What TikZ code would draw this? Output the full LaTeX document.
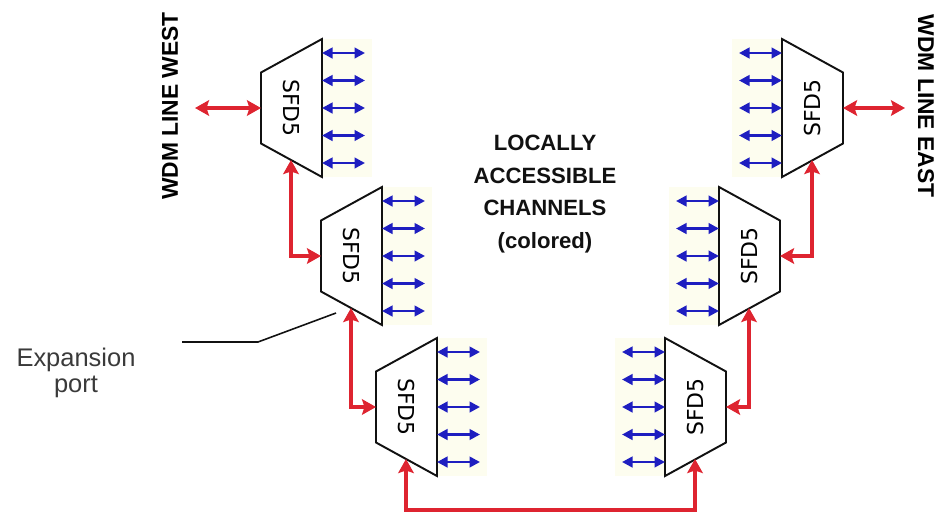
\documentclass[tikz,border=0pt]{standalone}
\usepackage{fontspec}
\setmainfont{Liberation Sans}
\newfontfamily\sfdfont{DejaVu Sans}
\usepackage{tikz}
\usetikzlibrary{arrows.meta}
\definecolor{WdmRed}{HTML}{DE2430}
\definecolor{WdmBlue}{HTML}{1E1EC0}
\definecolor{WdmInk}{HTML}{111111}
\definecolor{WdmGrey}{HTML}{3A3A3A}
\definecolor{WdmPaleYellow}{HTML}{FDFDEF}

\begin{document}
\begin{tikzpicture}[x=0.02cm,y=-0.02cm,
  demux/.style={draw=WdmInk,line width=1.1pt,fill=white},
  sfdtext/.style={font=\sfdfont\fontsize{12.5}{14}\selectfont,inner sep=0pt},
  fiberlink/.style={WdmRed,line width=2.4pt,
    {Stealth[length=2.8mm,width=3.1mm,inset=0.5mm]}-{Stealth[length=2.8mm,width=3.1mm,inset=0.5mm]}},
  channel/.style={WdmBlue,line width=1.5pt,
    {Triangle[length=2.1mm,width=2.1mm]}-{Triangle[length=2.1mm,width=2.1mm]}},
  linelabel/.style={font=\bfseries\fontsize{13}{14}\selectfont,inner sep=0pt},
  chanband/.style={fill=WdmPaleYellow,draw=none}]
  \useasboundingbox (0,0) rectangle (945,514);
  % west chain, narrow side facing left
  \foreach \n/\x/\y in {wtop/261/108,wmid/321/256,wbot/376/407}{
    \fill[chanband] (\x+61,\y-69) rectangle ++(50,138);
    \draw[demux] (\x,\y-35.5) -- (\x+61,\y-69) -- (\x+61,\y+69) -- (\x,\y+35.5) -- cycle;
    \node[sfdtext,rotate=-90] (\n) at (\x+30.5,\y) {SFD5};
    \coordinate (\n-in) at (\x,\y);
    \coordinate (\n-exp) at (\x+30,\y+52);
    \foreach \k in {-2,...,2}
      \draw[channel] (\x+61,\y+27.5*\k) -- (\x+104,\y+27.5*\k);
  }
  % east chain, narrow side facing right
  \foreach \n/\x/\y in {ebot/665/407,emid/719/256,etop/782/108}{
    \fill[chanband] (\x-50,\y-69) rectangle ++(50,138);
    \draw[demux] (\x,\y-69) -- (\x+61,\y-35.5) -- (\x+61,\y+35.5) -- (\x,\y+69) -- cycle;
    \node[sfdtext,rotate=90] (\n) at (\x+30.5,\y) {SFD5};
    \coordinate (\n-in) at (\x+61,\y);
    \coordinate (\n-exp) at (\x+30,\y+52);
    \foreach \k in {-2,...,2}
      \draw[channel] (\x-43,\y+27.5*\k) -- (\x,\y+27.5*\k);
  }
  \coordinate (westend) at (195,108);
  \coordinate (eastend) at (905,108);
  \coordinate (loopfloor) at (550,510);
  \draw[fiberlink] (westend) -- (wtop-in);
  \draw[fiberlink] (etop-in) -- (eastend);
  \draw[fiberlink] (wtop-exp) |- (wmid-in);
  \draw[fiberlink] (wmid-exp) |- (wbot-in);
  \draw[fiberlink] (etop-exp) |- (emid-in);
  \draw[fiberlink] (emid-exp) |- (ebot-in);
  \draw[fiberlink] (wbot-exp) |- (loopfloor) -| (ebot-exp);
  \node[linelabel,rotate=90] (westlabel) at (170,106) {WDM LINE WEST};
  \node[linelabel,rotate=-90] (eastlabel) at (926,106) {WDM LINE EAST};
  \node[font=\bfseries\fontsize{12.6}{18.7}\selectfont,align=center,text=WdmInk]
    (local) at (545,194) {LOCALLY\\ACCESSIBLE\\CHANNELS\\(colored)};
  \node[font=\fontsize{14.5}{14.7}\selectfont,text=WdmGrey,align=center]
    (expansion) at (76,373) {Expansion\\port};
  \coordinate (leadstart) at (182,342);
  \coordinate (leadbend) at (258,342);
  \coordinate (expport) at (336,313);
  \draw[WdmInk,line width=0.9pt] (leadstart) -- (leadbend) -- (expport);
\end{tikzpicture}
\end{document}
